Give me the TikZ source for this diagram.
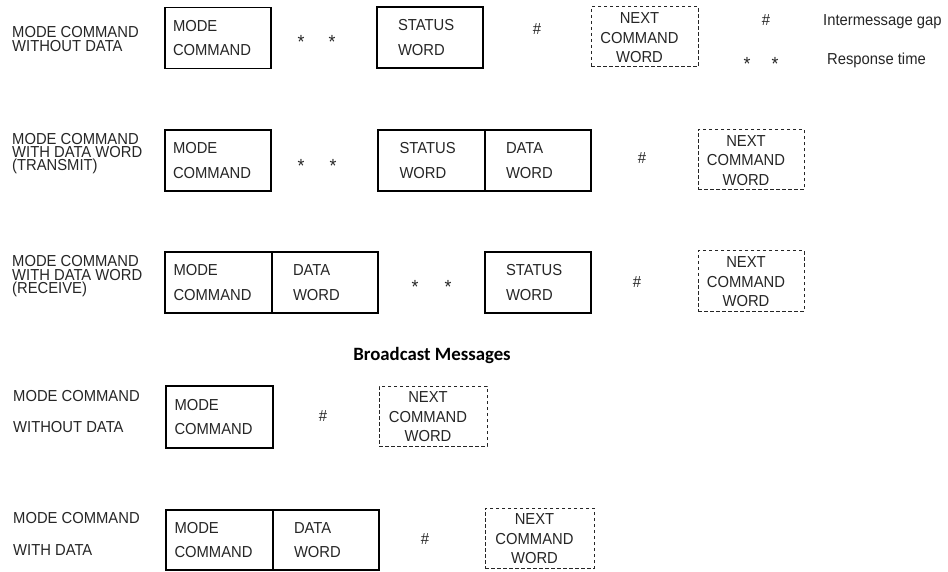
\documentclass[tikz,border=0pt]{standalone}
\usepackage{fontspec}
\setmainfont{Liberation Sans}[FakeStretch=0.93]
\newfontfamily\headfont{Carlito}
\begin{document}
\begin{tikzpicture}[x=1pt,y=-1pt,
  every node/.style={text=black!85, font=\fontsize{15.9pt}{17pt}\selectfont},
  wordbox/.style={draw=black, line width=1.8pt, outer sep=0pt,
    minimum width=106pt, minimum height=61pt, inner ysep=0pt, align=left,
    font=\fontsize{15.9pt}{24.5pt}\selectfont},
  cmdtext/.style={wordbox, text width=90pt, inner xsep=8pt},
  wordtext/.style={wordbox, text width=64pt, inner xsep=21pt},
  nextbox/.style={draw=black!85, line width=1pt, dash pattern=on 3.5pt off 2.5pt,
    outer sep=0pt, minimum width=106pt, minimum height=60pt},
  nexttext/.style={align=center, inner sep=0pt,
    font=\fontsize{15.9pt}{19.5pt}\selectfont},
  rowlabel/.style={anchor=north west, inner sep=0pt, align=left},
  starsym/.style={anchor=base, inner sep=0pt, font=\fontsize{19pt}{20pt}\selectfont},
  hashsym/.style={anchor=base, inner sep=0pt, font=\fontsize{16pt}{18pt}\selectfont},
  legendtext/.style={anchor=base west, inner sep=0pt}
]
\fill[white] (0,0) rectangle (948,572);
\useasboundingbox (0,0) rectangle (948,572);

% legend
\node[hashsym] (lghash) at (766,25.6) {\#};
\node[legendtext] (lggap) at (823,25.2) {Intermessage gap};
\node[starsym] (lgstarA) at (747,70.9) {*};
\node[starsym] (lgstarB) at (775,70.9) {*};
\node[legendtext] (lgresp) at (827,64.2) {Response time};

% mode command without data
\node[rowlabel, font=\fontsize{15.9pt}{14pt}\selectfont] (r1lab) at (12,25.8)
  {MODE COMMAND\\WITHOUT DATA};
\node[cmdtext] (r1mc) at (218,38) {MODE\\COMMAND};
\node[starsym] (r1starA) at (301,48.9) {*};
\node[starsym] (r1starB) at (332,48.9) {*};
\node[wordtext] (r1sw) at (430,37.5) {STATUS\\WORD};
\node[hashsym] (r1hash) at (537,34.1) {\#};
\node[nextbox, minimum width=107pt] (r1nx) at (644.5,37) {};
\node[nexttext] (r1nxt) at ([xshift=-5pt,yshift=-1pt]r1nx.center)
  {NEXT\\COMMAND\hspace*{12pt}\\WORD};

% mode command with data word (transmit)
\node[rowlabel, font=\fontsize{15.9pt}{13pt}\selectfont] (r2lab) at (12,133.3)
  {MODE COMMAND\\WITH DATA WORD\\(TRANSMIT)};
\node[cmdtext] (r2mc) at (218,160.5) {MODE\\COMMAND};
\node[starsym] (r2starA) at (301,172.9) {*};
\node[starsym] (r2starB) at (333,172.9) {*};
\node[wordtext, minimum width=107pt] (r2sw) at (431.5,160.5) {STATUS\\WORD};
\node[wordtext, anchor=west] (r2dw) at (r2sw.east) {DATA\\WORD};
\node[hashsym] (r2hash) at (642,163.6) {\#};
\node[nextbox] (r2nx) at (751,159.5) {};
\node[nexttext] (r2nxt) at ([xshift=-5pt,yshift=-1pt]r2nx.center)
  {NEXT\\COMMAND\hspace*{12pt}\\WORD};

% mode command with data word (receive)
\node[rowlabel, font=\fontsize{15.9pt}{13.5pt}\selectfont] (r3lab) at (12,255.3)
  {MODE COMMAND\\WITH DATA WORD\\(RECEIVE)};
\node[cmdtext, minimum width=107pt] (r3mc) at (218.5,282.5) {MODE\\COMMAND};
\node[wordtext, anchor=west] (r3dw) at (r3mc.east) {DATA\\WORD};
\node[starsym] (r3starA) at (415,293.9) {*};
\node[starsym] (r3starB) at (448,293.9) {*};
\node[wordtext] (r3sw) at (538,282.5) {STATUS\\WORD};
\node[hashsym] (r3hash) at (637,287.6) {\#};
\node[nextbox] (r3nx) at (751,281) {};
\node[nexttext] (r3nxt) at ([xshift=-5pt,yshift=-1pt]r3nx.center)
  {NEXT\\COMMAND\hspace*{12pt}\\WORD};

% broadcast messages
\node[anchor=base, inner sep=0pt, text=black,
  font=\headfont\bfseries\fontsize{18.8pt}{22pt}\selectfont] (bchead) at (432,360)
  {Broadcast Messages};

\node[rowlabel, font=\fontsize{15.9pt}{31pt}\selectfont] (r4lab) at (13,390.3)
  {MODE COMMAND\\WITHOUT DATA};
\node[cmdtext, minimum width=107pt, minimum height=62pt] (r4mc) at (219.5,417)
  {MODE\\COMMAND};
\node[hashsym] (r4hash) at (323,421.6) {\#};
\node[nextbox, minimum width=108pt] (r4nx) at (433,416) {};
\node[nexttext] (r4nxt) at ([xshift=-5pt,yshift=-1pt]r4nx.center)
  {NEXT\\COMMAND\hspace*{12pt}\\WORD};

\node[rowlabel, font=\fontsize{15.9pt}{32pt}\selectfont] (r5lab) at (13,512.3)
  {MODE COMMAND\\WITH DATA};
\node[cmdtext, minimum width=107pt, minimum height=60pt] (r5mc) at (219.5,540)
  {MODE\\COMMAND};
\node[wordtext, anchor=west, minimum height=60pt] (r5dw) at (r5mc.east) {DATA\\WORD};
\node[hashsym] (r5hash) at (425,544.6) {\#};
\node[nextbox, minimum width=109pt] (r5nx) at (539.5,538) {};
\node[nexttext] (r5nxt) at ([xshift=-5pt,yshift=-1pt]r5nx.center)
  {NEXT\\COMMAND\hspace*{12pt}\\WORD};
\end{tikzpicture}
\end{document}
